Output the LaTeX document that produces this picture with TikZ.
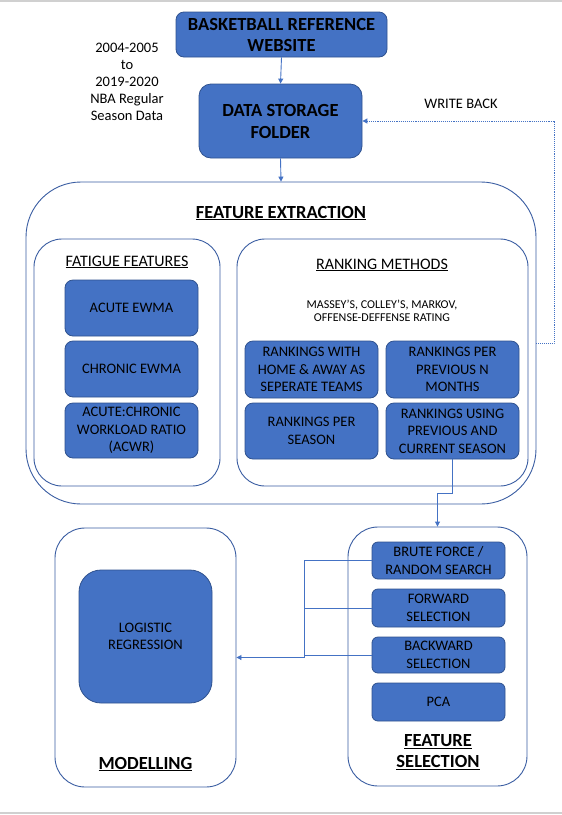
\documentclass[tikz,border=0pt]{standalone}
\usepackage{fontspec}
\setmainfont{Carlito}
\usetikzlibrary{arrows.meta,calc,positioning}

\definecolor{boxblue}{HTML}{4472C4}
\definecolor{boxedge}{HTML}{2F528F}
\definecolor{groupedge}{HTML}{3A5DA2}
\definecolor{linkblue}{HTML}{4472C4}
\definecolor{pagegrey}{HTML}{D0D0D0}

\begin{document}
\begin{tikzpicture}[x=1pt, y=-1pt, >={Triangle[length=5pt,width=5pt]},
    block/.style={draw=boxedge, fill=boxblue, line width=0.8pt, rounded corners=8pt, align=center, inner sep=0pt, font=\fontsize{14.5}{17.5}\selectfont},
    group/.style={draw=groupedge, line width=0.9pt, fill=white, inner sep=0pt},
    title/.style={align=center, font=\fontsize{18.5}{21.5}\selectfont\bfseries},
    heading/.style={align=center, font=\fontsize{16}{19}\selectfont},
    note/.style={align=center, font=\fontsize{14.5}{17}\selectfont},
    link/.style={draw=linkblue, line width=0.9pt}]
    \useasboundingbox (0,0) rectangle (562,815);
    \draw[pagegrey, line width=1.5pt] (0,1) -- (562,1);
    \draw[pagegrey, line width=1.5pt] (0,813) -- (562,813);

    \node[block, minimum width=211pt, minimum height=45pt, font=\fontsize{18.5}{21}\selectfont\bfseries] (web) at (281.5,34.5) {BASKETBALL REFERENCE\\WEBSITE};
    \node[block, rounded corners=12pt, minimum width=163pt, minimum height=74pt, font=\fontsize{18.5}{22}\selectfont\bfseries] (store) at (280.5,121) {DATA STORAGE\\FOLDER};
    \node[note] (years) at (127,82) {2004-2005\\to\\2019-2020\\NBA Regular\\Season Data};
    \node[note] (wbnote) at (461,104) {WRITE BACK};

    \node[group, rounded corners=55pt, minimum width=510pt, minimum height=322pt] (extract) at (281,343) {};
    \node[title] (extracttitle) at (281,213) {\underline{FEATURE EXTRACTION}};

    \node[group, rounded corners=28pt, minimum width=186pt, minimum height=247pt] (fatigue) at (127,362.5) {};
    \node[heading] (fatiguetitle) at (127,262) {\underline{FATIGUE FEATURES}};
    \node[block, minimum width=133pt, minimum height=56pt] (acute) at (131.5,308) {ACUTE EWMA};
    \node[block, minimum width=133pt, minimum height=56pt] (chronic) at (131.5,369) {CHRONIC EWMA};
    \node[block, minimum width=133pt, minimum height=55pt] (acwr) at (131.5,430.5) {ACUTE:CHRONIC\\WORKLOAD RATIO\\(ACWR)};

    \node[group, rounded corners=28pt, minimum width=291pt, minimum height=247pt] (ranking) at (382.5,362.5) {};
    \node[heading] (rankingtitle) at (382,265) {\underline{RANKING METHODS}};
    \node[align=center, font=\fontsize{12}{13.5}\selectfont] (methods) at (382,311) {MASSEY’S, COLLEY’S, MARKOV,\\OFFENSE-DEFFENSE RATING};
    \node[block, minimum width=133pt, minimum height=57pt] (rank1) at (311.5,369.5) {RANKINGS WITH\\HOME \& AWAY AS\\SEPERATE TEAMS};
    \node[block, minimum width=133pt, minimum height=57pt] (rank2) at (452.5,369.5) {RANKINGS PER\\PREVIOUS N\\MONTHS};
    \node[block, minimum width=133pt, minimum height=56pt] (rank3) at (311.5,431) {RANKINGS PER\\SEASON};
    \node[block, minimum width=133pt, minimum height=56pt] (rank4) at (452.5,431) {RANKINGS USING\\PREVIOUS AND\\CURRENT SEASON};

    \node[group, rounded corners=30pt, minimum width=181pt, minimum height=259pt] (modelling) at (145.5,657.5) {};
    \node[block, rounded corners=22pt, minimum width=133pt, minimum height=133pt] (logistic) at (145.5,636.5) {LOGISTIC\\REGRESSION};
    \node[title] (modeltitle) at (145.5,764) {\underline{MODELLING}};

    \node[group, rounded corners=30pt, minimum width=179pt, minimum height=259pt] (selection) at (437.5,656.5) {};
    \node[block, rounded corners=6pt, minimum width=133pt, minimum height=37pt] (brute) at (438.5,560.5) {BRUTE FORCE /\\RANDOM SEARCH};
    \node[block, rounded corners=6pt, minimum width=133pt, minimum height=38pt] (fwd) at (438.5,608) {FORWARD\\SELECTION};
    \node[block, rounded corners=6pt, minimum width=133pt, minimum height=36pt] (bwd) at (438.5,655) {BACKWARD\\SELECTION};
    \node[block, rounded corners=6pt, minimum width=133pt, minimum height=38pt] (pca) at (438.5,702) {PCA};
    \node[title] (selecttitle) at (438,752) {\underline{FEATURE}\\\underline{SELECTION}};

    \draw[link,->] (web.south) -- (store.north);
    \draw[link,->] (store.south) -- (extract.north);
    \coordinate (wbcorner) at (554,121);
    \draw[link, densely dotted, ->] (extract.east) -| (wbcorner) -- (store.east);
    \coordinate (jog) at (452.5,493);
    \draw[link,->] (rank4.south) -- (jog) -| (selection.north);
    \coordinate (bus) at (304,657.5);
    \draw[link] (brute.west) -| (bus);
    \draw[link] (fwd.west) -- (fwd.west -| bus);
    \draw[link] (bwd.west) -- (bwd.west -| bus);
    \draw[link,->] (bus) -- (modelling.east);
\end{tikzpicture}
\end{document}
